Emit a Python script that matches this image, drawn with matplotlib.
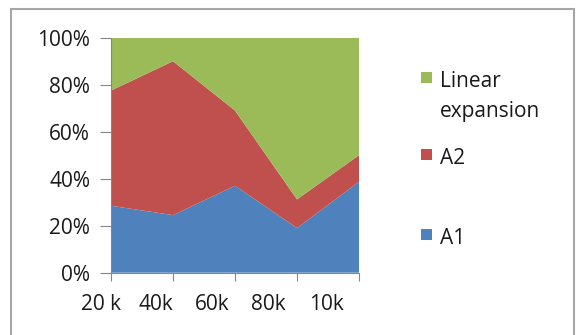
import numpy as np
import matplotlib.pyplot as plt
from matplotlib.patches import Rectangle
from matplotlib.ticker import PercentFormatter
from matplotlib.transforms import ScaledTranslation

# data (share of total, %)
categories = ['20 k', '40k', '60k', '80k', '10k']
a1 = [28.5, 24.5, 37.0, 19.0, 38.7]
a2 = [49.0, 65.5, 32.0, 12.2, 11.3]
linear = [22.5, 10.0, 31.0, 68.8, 50.0]

series_names = ['A1', 'A2', 'Linear\nexpansion']
colors = ['#4F81BD', '#C0504D', '#9BBB59']

plt.rcParams['font.family'] = ['Open Sans', 'DejaVu Sans']
text_color = '#1a1a1a'
axis_color = '#868686'

W, H = 576, 335
fig = plt.figure(figsize=(W / 100, H / 100), dpi=100)
ax = fig.add_axes([111 / W, 1 - 272.7 / H, 248 / W, 235 / H])

x = np.arange(len(categories))
ax.stackplot(x, a1, a2, linear, colors=colors, linewidth=0)

ax.set_xlim(0, len(categories) - 1)
ax.set_ylim(0, 100)
ax.set_yticks(np.arange(0, 101, 20))
ax.yaxis.set_major_formatter(PercentFormatter(decimals=0))
ax.set_xticks(x)
ax.set_xticklabels(categories)

ax.spines['top'].set_visible(False)
ax.spines['right'].set_visible(False)
for s in ('left', 'bottom'):
    ax.spines[s].set_color(axis_color)
    ax.spines[s].set_linewidth(0.8)

ax.tick_params(axis='y', length=8, width=0.8, color=axis_color, pad=7,
               labelsize=15, labelcolor=text_color)
ax.tick_params(axis='x', length=5.5, width=0.8, color=axis_color, pad=10,
               labelsize=15, labelcolor=text_color)

# excel places the category labels slightly left of the ticks
shifts = [-10, -17, -23, -29, -33]
for lab, dx in zip(ax.get_xticklabels(), shifts):
    lab.set_transform(lab.get_transform() + ScaledTranslation(dx / 100, 0, fig.dpi_scale_trans))

# legend drawn by hand (Excel style, marker beside first line)
line_gap = 30  # px between lines of a wrapped label
legend_rows = [(2, 87), (1, 164), (0, 244)]
for idx, baseline in legend_rows:
    nlines = series_names[idx].count('\n') + 1
    fig.patches.append(Rectangle((421 / W, 1 - (baseline - 4) / H), 11 / W, 11 / H,
                                 transform=fig.transFigure, facecolor=colors[idx],
                                 edgecolor='none'))
    fig.text(440 / W, 1 - (baseline + line_gap * (nlines - 1)) / H, series_names[idx],
             fontsize=15, color=text_color, va='baseline', ha='left', linespacing=1.55)

# chart area frame
fig.patches.append(Rectangle((11 / W, -0.05), 563 / W, 1 - 9 / H + 0.05,
                             transform=fig.transFigure, fill=False,
                             edgecolor='#A6A6A6', linewidth=1.5))

fig.savefig('out.png', dpi=100)
